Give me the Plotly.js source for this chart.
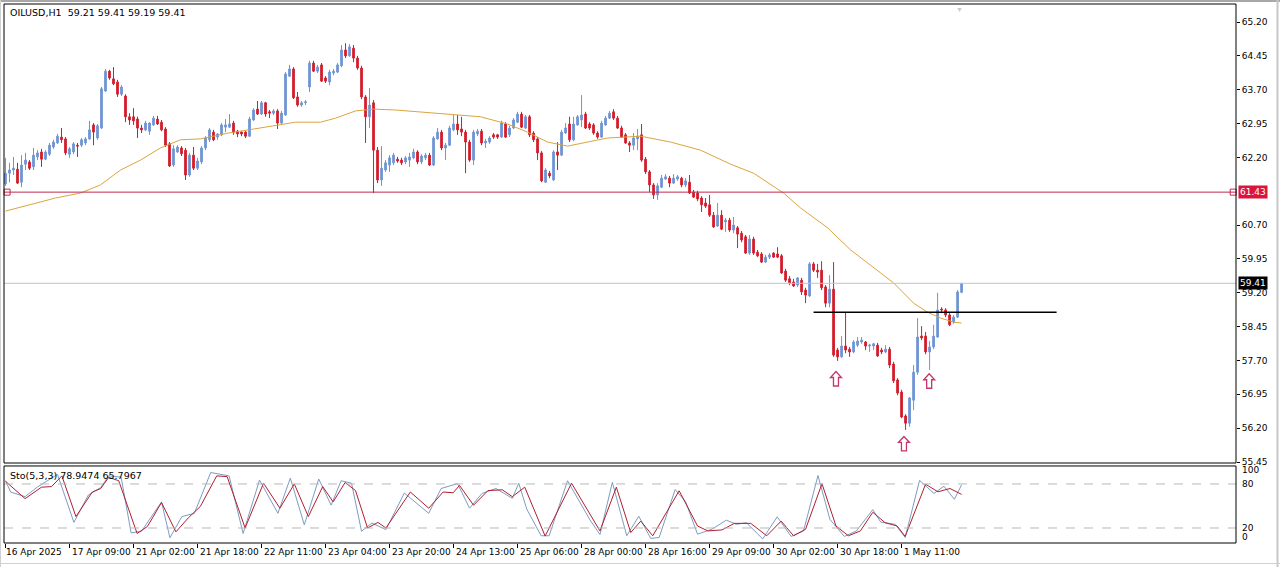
<!DOCTYPE html>
<html>
<head>
<meta charset="utf-8">
<script src="https://cdn.plot.ly/plotly-3.0.1.min.js"></script>
<style>
html,body{margin:0;padding:0;background:#fff;}
#chart{width:1280px;height:567px;}
</style>
</head>
<body>
<div id="chart"></div>
<script>
// ---------- DATA ----------
const symbolTitle = 'OILUSD,H1';
const lastOHLC = ['59.21', '59.41', '59.19', '59.41'];
const stochTitle = 'Sto(5,3,3)';
const stochLast = ['78.9474', '65.7967'];

const opens = [
61.61,61.85,61.92,61.94,61.65,62.05,62.10,61.99,62.21,62.32,62.16,62.27,62.43,62.52,62.65,62.61,62.27,62.32,62.47,62.47,
62.52,62.61,62.92,62.63,62.85,63.67,64.11,63.94,63.87,63.60,63.56,63.10,63.10,63.05,62.85,62.81,62.78,62.92,63.05,62.98,
62.83,62.50,62.03,62.32,62.41,62.36,61.81,62.25,61.96,62.10,62.41,62.59,62.76,62.65,62.70,62.87,62.87,62.96,62.78,62.76,
62.76,62.67,63.03,63.27,63.16,63.41,63.21,63.18,63.23,62.96,63.14,64.00,64.16,63.54,63.36,63.41,63.76,64.29,64.11,64.25,
63.96,63.87,64.07,64.09,64.23,64.58,64.45,64.62,64.40,64.18,63.54,63.10,63.41,62.36,61.70,61.92,62.03,62.08,62.16,62.14,
62.10,62.14,62.19,62.32,62.10,62.19,62.25,62.03,62.61,62.76,62.41,62.47,62.81,62.94,62.83,62.76,62.54,62.14,62.72,62.78,
62.52,62.54,62.70,62.70,62.65,62.94,62.70,62.85,62.98,63.16,62.85,63.10,62.74,62.61,62.30,61.65,61.85,61.70,62.32,62.25,
62.74,62.94,62.59,62.92,63.03,63.16,62.94,62.92,62.74,62.65,62.92,63.07,63.21,63.07,62.85,62.70,62.52,62.47,62.61,62.70,
62.16,61.88,61.59,61.37,61.54,61.72,61.74,61.63,61.72,61.74,61.59,61.65,61.43,61.41,61.30,61.19,61.15,60.92,60.68,60.92,
60.77,60.81,60.59,60.64,60.52,60.44,60.08,60.39,60.10,60.06,59.88,59.99,60.08,60.06,60.02,59.68,59.51,59.44,59.37,59.48,
59.26,59.13,59.84,59.70,59.70,59.33,58.97,59.28,57.93,57.78,58.02,57.95,57.89,58.04,58.11,58.11,58.02,58.02,58.04,57.93,
57.89,57.95,57.62,57.27,57.00,56.47,56.31,56.82,57.44,58.24,58.24,57.89,58.00,58.22,58.84,58.82,58.71,58.55,58.66,59.21];

const highs = [
62.19,62.08,62.21,62.08,62.25,62.30,62.14,62.41,62.36,62.39,62.36,62.52,62.59,62.72,62.85,62.65,62.43,62.54,62.52,62.63,
62.65,63.01,62.96,62.94,63.76,64.16,64.14,64.20,63.92,63.80,63.60,63.18,63.29,63.10,62.92,63.01,62.98,63.12,63.12,63.03,
62.87,62.54,62.47,62.47,62.45,62.41,62.30,62.43,62.19,62.45,62.67,62.85,62.81,62.74,62.96,63.05,63.16,63.01,62.81,62.78,
62.78,63.10,63.29,63.45,63.45,63.43,63.25,63.27,63.27,63.23,64.09,64.25,64.20,63.65,63.45,63.47,64.34,64.34,64.25,64.29,
64.00,64.14,64.16,64.29,64.69,64.73,64.71,64.69,64.45,64.23,63.58,63.74,63.47,62.43,62.45,62.14,62.25,62.30,62.21,62.19,
62.23,62.30,62.39,62.36,62.27,62.30,62.30,62.67,62.85,62.81,62.52,62.90,63.14,63.14,63.10,62.81,62.59,62.81,62.83,62.83,
62.61,62.67,62.74,62.72,63.01,62.98,62.90,63.07,63.21,63.21,63.14,63.14,62.78,62.65,62.34,61.96,61.90,62.36,62.54,62.81,
62.96,63.10,63.10,63.14,63.58,63.21,62.98,62.96,62.78,63.01,63.12,63.23,63.27,63.12,62.90,62.74,62.56,62.74,62.83,62.94,
62.21,61.92,61.63,61.63,61.81,61.83,61.79,61.83,61.81,61.77,61.74,61.81,61.48,61.46,61.34,61.30,61.37,60.99,61.19,61.03,
60.86,60.86,60.88,60.68,60.57,60.48,60.48,60.44,60.15,60.10,60.04,60.08,60.10,60.21,60.06,59.73,59.57,59.51,59.55,59.53,
59.31,59.88,59.88,59.84,59.90,59.37,59.59,59.88,57.98,58.24,58.77,58.00,58.15,58.22,58.22,58.13,58.07,58.09,58.09,57.98,
58.04,58.00,57.67,57.31,57.05,56.51,56.89,57.60,58.64,58.46,58.33,58.13,58.49,59.20,58.88,58.86,58.75,58.71,59.26,59.41];

const lows = [
61.57,61.65,61.81,61.61,61.54,61.92,61.92,61.92,62.14,61.99,62.14,62.23,62.39,62.50,62.52,62.25,62.19,62.27,62.21,62.43,
62.47,62.59,62.47,62.59,62.83,63.65,63.92,63.80,63.54,63.56,62.98,62.92,62.92,62.63,62.74,62.78,62.70,62.90,62.92,62.78,
62.43,61.99,61.99,62.30,62.23,61.70,61.77,61.92,61.92,62.05,62.36,62.54,62.56,62.59,62.67,62.76,62.85,62.70,62.65,62.67,
62.63,62.65,63.01,63.14,63.14,63.10,63.07,63.14,62.83,62.94,63.12,63.98,63.49,63.32,63.32,63.36,63.65,64.09,64.07,63.87,
63.85,63.80,64.02,64.07,64.20,64.40,64.43,64.31,64.14,63.49,62.52,62.85,61.41,61.63,61.57,61.88,61.88,62.03,62.08,62.03,
62.05,61.99,62.16,62.05,62.05,62.14,62.01,62.01,62.59,62.36,62.14,62.45,62.78,62.70,62.67,61.85,62.10,62.03,62.67,62.47,
62.41,62.50,62.61,62.61,62.63,62.63,62.65,62.83,62.96,62.85,62.83,62.65,62.54,62.14,61.65,61.63,61.74,61.68,61.92,62.23,
62.72,62.54,62.56,62.90,62.87,62.83,62.81,62.70,62.61,62.63,62.90,63.05,63.03,62.83,62.63,62.50,62.32,62.36,62.36,62.10,
61.83,61.43,61.28,61.26,61.52,61.70,61.54,61.61,61.68,61.54,61.54,61.39,61.30,61.23,60.99,61.08,60.88,60.64,60.66,60.59,
60.55,60.55,60.52,60.19,60.32,60.06,60.04,60.04,59.99,59.86,59.86,59.95,59.97,59.97,59.62,59.44,59.37,59.33,59.33,59.15,
58.97,59.11,59.66,59.53,59.26,58.88,58.88,57.78,57.69,57.76,57.86,57.78,57.86,58.00,58.07,57.93,57.89,57.93,57.78,57.84,
57.86,57.53,57.20,56.93,56.42,56.16,56.23,56.60,57.38,58.15,57.84,57.49,57.95,58.20,58.75,58.66,58.46,58.51,58.64,59.19];

const closes = [
61.85,61.92,61.96,61.63,62.03,62.14,61.96,62.25,62.30,62.16,62.32,62.47,62.54,62.67,62.59,62.30,62.39,62.50,62.45,62.59,
62.61,62.81,62.76,62.90,63.72,64.11,63.96,63.83,63.60,63.76,63.10,63.03,63.01,62.85,62.81,62.96,62.96,63.07,62.94,62.81,
62.47,62.01,62.39,62.43,62.28,61.81,62.25,61.96,62.12,62.41,62.63,62.81,62.59,62.72,62.92,62.92,62.94,62.76,62.72,62.72,
62.67,63.05,63.25,63.16,63.41,63.16,63.18,63.23,62.96,63.18,64.05,64.16,63.52,63.36,63.41,63.43,64.29,64.11,64.20,63.89,
63.89,64.09,64.11,64.25,64.58,64.45,64.65,64.40,64.18,63.54,63.10,63.36,62.36,61.70,61.96,62.08,62.19,62.25,62.12,62.08,
62.19,62.21,62.32,62.10,62.23,62.25,62.03,62.63,62.76,62.41,62.47,62.85,62.94,62.81,62.76,62.54,62.14,62.76,62.78,62.52,
62.56,62.63,62.65,62.65,62.96,62.65,62.85,63.03,63.16,62.87,63.10,62.70,62.59,62.30,61.68,61.92,61.79,62.32,62.25,62.76,
62.85,62.59,62.94,63.10,63.14,62.85,62.85,62.74,62.65,62.96,63.07,63.18,63.07,62.85,62.65,62.52,62.47,62.63,62.67,62.14,
61.88,61.59,61.37,61.57,61.74,61.77,61.63,61.74,61.77,61.59,61.68,61.41,61.32,61.28,61.15,61.12,60.92,60.66,60.92,60.61,
60.81,60.59,60.70,60.50,60.37,60.08,60.39,60.08,60.02,59.88,59.99,60.04,59.99,59.99,59.64,59.48,59.42,59.35,59.53,59.22,
59.15,59.84,59.70,59.66,59.31,58.97,59.28,57.82,57.78,58.02,57.93,57.89,58.11,58.13,58.15,58.02,58.04,58.07,57.80,57.89,
57.95,57.60,57.25,56.98,56.45,56.31,56.87,57.44,58.22,58.20,57.89,58.00,58.24,58.82,58.82,58.71,58.49,58.66,59.22,59.41];

// moving average, bar position / value
const maBar = [0,12.5,18.75,23.75,28.75,33.75,38.75,43.75,48.75,55.75,60.75,67.5,72.5,78.75,82.5,87.5,92,97.5,103.75,113.75,
118.75,125.5,130.5,135.5,140.5,145.5,150.5,158.75,166.25,173.75,181.25,187,194.5,198.75,205.5,211.25,217,222,227,230.5,233.75,237,239];
const maVal = [61.01,61.30,61.41,61.59,61.92,62.14,62.41,62.59,62.61,62.74,62.81,62.90,62.98,62.98,63.07,63.23,63.27,63.25,63.21,63.14,
63.10,62.94,62.76,62.54,62.45,62.54,62.63,62.67,62.54,62.36,62.05,61.85,61.41,61.08,60.64,60.15,59.77,59.42,58.97,58.77,58.64,58.55,58.53];

// stochastic main (%K) and signal (%D)
const kBar = [0,1.3,4.9,8,13,17.1,20.7,23.8,25.8,28.9,31.4,34,39,41.1,44.1,47.2,51.3,55.9,59.4,63.5,68.1,71.2,74.7,78.3,81.4,83.9,86.5,89,91.6,95.1,
99.7,105.8,108.9,113,116,119.1,122.6,126.7,128.3,130.3,133.9,135.9,140.5,146.1,148.6,151.7,155.3,158.3,161.3,163.4,167.4,170,173,176.6,180.2,182.7,185.2,189.3,192.9,196.4,
199.5,203.1,206.1,209.7,212.7,216.8,218.8,222.4,224.9,228.5,232.1,234.6,237.2,239];
const kVal = [84.4,68.9,62.7,76,93,27.6,64.9,75.1,91,89.3,13.3,15.6,55.6,6.7,35.6,40,95.6,91,12.5,85.3,40,88,24.4,86.7,51.1,84.4,81,15.6,26.7,17.8,
67.6,40,73.8,80.4,47,67,73.8,60.4,81,45.8,9.4,9.4,84.4,31.1,11.1,82.2,9.4,36,5.8,7.1,72.4,56,11.6,18.3,30.7,25,27.2,5,35.2,8.5,
16,91.5,31.6,8.5,16,45,28,25,7.1,84.9,67.1,76.9,59.1,78.9];
const dBar = [0,4.9,9,11.5,14.1,17.6,21.7,23.8,25.8,28.3,32.9,35.5,39,42.6,45.7,48.7,52.8,55.4,59.9,64.5,68.6,72.2,75.7,79.3,81.9,84.9,87.5,90.5,93.1,95.1,
101.2,105.8,109.4,111.9,113.5,117,120.6,124.2,126.7,129.8,134.9,141.5,148.6,152.7,156.3,158.8,161.8,168.4,173,175.6,179.1,182.2,186.3,190.3,193.9,197,200,204.1,207.6,210.7,
213.7,216.8,219.9,222.9,224.9,230,233.1,236.1,239];
const dVal = [83.6,60,75.6,76.4,91,35.6,69,73.8,89,84.4,12.5,22.2,54.7,14.7,33.8,49.3,91,90,20,81,47,80,35.6,76.4,55.6,82,71,20,27.6,20,
69,47,69,68,78,51,71,72,62.7,75.6,9,81,16,75.6,13.8,29.4,9.4,70.7,22.7,16,17.4,26.3,26.3,9.4,29.4,9.4,18.3,80.4,22.7,9.4,
16,41.4,27.2,22.7,8.5,79.6,69.3,73.8,65.8];

// time axis labels (every 16 bars)
const timeLabels = ['16 Apr 2025','17 Apr 09:00','21 Apr 02:00','21 Apr 18:00','22 Apr 11:00','23 Apr 04:00','23 Apr 20:00',
'24 Apr 13:00','25 Apr 06:00','28 Apr 00:00','28 Apr 16:00','29 Apr 09:00','30 Apr 02:00','30 Apr 18:00','1 May 11:00'];
const priceTickShown = [55.45,56.20,56.95,57.70,58.45,59.20,59.95,60.70,62.20,62.95,63.70,64.45,65.20];
const stochLevels = [80, 20];
const stochScaleLabels = ['100','80','20','0'];
const stochScaleValues = [100, 80, 20, 0];

const levelPrice = 61.43;        // red horizontal line
const bidPrice = 59.41;          // last price line
const necklinePrice = 58.77;     // black trend line
const necklineBars = [202, 262.75];
const levelAnchorBars = [0.4, 306.9];
const arrowBars = [207.6, 224.6, 230.9];
const arrowPrices = [57.29, 55.85, 57.24];

// ---------- CHART ----------
const FONT = 'DejaVu Sans, Tahoma, sans-serif';
const xs = opens.map((_, i) => i);
const xRange = [-0.375, 307.6];
const mainDomain = [0.1484, 1];
const stochDomain = [0, 0.1429];

const traces = [
  {
    type: 'candlestick', x: xs, open: opens, high: highs, low: lows, close: closes,
    xaxis: 'x', yaxis: 'y',
    increasing: {line: {color: '#6f95d3', width: 1}, fillcolor: '#6f95d3'},
    decreasing: {line: {color: '#d21d2b', width: 1}, fillcolor: '#d21d2b'},
    whiskerwidth: 0, hoverinfo: 'skip', showlegend: false
  },
  {
    type: 'scatter', mode: 'lines', x: maBar, y: maVal, xaxis: 'x', yaxis: 'y',
    line: {color: '#dca43e', width: 1}, hoverinfo: 'skip'
  },
  {
    type: 'scatter', mode: 'markers', x: levelAnchorBars, y: levelAnchorBars.map(() => levelPrice),
    xaxis: 'x', yaxis: 'y', marker: {symbol: 'square-open', size: 6, color: '#c0284c', line: {width: 1}},
    hoverinfo: 'skip', cliponaxis: false
  },
  {
    type: 'scatter', mode: 'lines', x: kBar, y: kVal, xaxis: 'x2', yaxis: 'y2',
    line: {color: '#7d9cc2', width: 1}, hoverinfo: 'skip'
  },
  {
    type: 'scatter', mode: 'lines', x: dBar, y: dVal, xaxis: 'x2', yaxis: 'y2',
    line: {color: '#b01f2f', width: 1}, hoverinfo: 'skip'
  }
];

const px2paperX = (px) => (px - 4) / 1232;
const px2paperY = (py) => (543 - py) / 539;

// hollow block arrow outline (pixel offsets around its anchor point)
const arrowPath = 'M0,7.5 L-5.5,1.5 L-2.5,1.5 L-2.5,-7 L2.5,-7 L2.5,1.5 L5.5,1.5 Z';

const shapes = [
  // level lines
  {type: 'line', xref: 'paper', x0: 0, x1: 1, yref: 'y', y0: bidPrice, y1: bidPrice, line: {color: '#c4c4c4', width: 1}},
  {type: 'line', xref: 'paper', x0: 0, x1: 1, yref: 'y', y0: levelPrice, y1: levelPrice, line: {color: '#c0284c', width: 1}},
  {type: 'line', xref: 'x', x0: necklineBars[0], x1: necklineBars[1], yref: 'y', y0: necklinePrice, y1: necklinePrice, line: {color: '#000', width: 1.5}},
  // stochastic levels
  ...stochLevels.map(v => ({type: 'line', xref: 'paper', x0: 0, x1: 1, yref: 'y2', y0: v, y1: v, line: {color: '#b8b8b8', width: 1, dash: 'dash'}})),
  // frames
  {type: 'rect', xref: 'paper', yref: 'paper', x0: 0, x1: 1, y0: mainDomain[0], y1: mainDomain[1], line: {color: '#000', width: 1}},
  {type: 'rect', xref: 'paper', yref: 'paper', x0: 0, x1: 1, y0: stochDomain[0], y1: stochDomain[1], line: {color: '#000', width: 1}},
  // window decoration
  {type: 'rect', xref: 'paper', yref: 'paper', x0: px2paperX(0), x1: px2paperX(1280), y0: px2paperY(2), y1: px2paperY(0), fillcolor: '#a8a8a8', line: {width: 0}},
  {type: 'line', xref: 'paper', yref: 'paper', x0: px2paperX(1277.5), x1: px2paperX(1277.5), y0: px2paperY(567), y1: px2paperY(0), line: {color: '#c8c8c8', width: 2}},
  {type: 'line', xref: 'paper', yref: 'paper', x0: px2paperX(0), x1: px2paperX(1280), y0: px2paperY(563.5), y1: px2paperY(563.5), line: {color: '#d0d0d0', width: 1}},
  {type: 'line', xref: 'paper', yref: 'paper', x0: px2paperX(0.5), x1: px2paperX(0.5), y0: px2paperY(567), y1: px2paperY(0), line: {color: '#d0d0d0', width: 1}},
  // signal arrows
  ...arrowBars.map((b, k) => ({type: 'path', xref: 'x', yref: 'y', xsizemode: 'pixel', ysizemode: 'pixel',
    xanchor: b, yanchor: arrowPrices[k], path: arrowPath, fillcolor: '#ffffff', line: {color: '#c8346c', width: 1.3}}))
];

const annotations = [
  {xref: 'paper', yref: 'paper', x: px2paperX(8), y: px2paperY(13), xanchor: 'left', yanchor: 'middle', showarrow: false,
   text: symbolTitle + '\u00a0\u00a0' + lastOHLC.join(' '), font: {family: FONT, size: 9.5, color: '#000'}},
  {xref: 'paper', yref: 'paper', x: px2paperX(8), y: px2paperY(475), xanchor: 'left', yanchor: 'middle', showarrow: false,
   text: stochTitle + ' ' + stochLast.join(' '), font: {family: FONT, size: 9.5, color: '#000'}},
  // price boxes on right scale
  {xref: 'paper', yref: 'y', x: px2paperX(1238), y: levelPrice, xanchor: 'left', yanchor: 'middle', showarrow: false,
   text: levelPrice.toFixed(2), bgcolor: '#dc143c', borderpad: 1, font: {family: FONT, size: 9, color: '#fff'}},
  {xref: 'paper', yref: 'y', x: px2paperX(1238), y: bidPrice, xanchor: 'left', yanchor: 'middle', showarrow: false,
   text: bidPrice.toFixed(2), bgcolor: '#000', borderpad: 1, font: {family: FONT, size: 9, color: '#fff'}},
  // stochastic scale labels
  ...stochScaleLabels.map((t, k) => ({xref: 'paper', yref: 'y2', x: px2paperX(1240), y: stochScaleValues[k],
   yshift: k === 0 ? -1 : (k === 3 ? 6 : 0), xanchor: 'left', yanchor: 'middle', showarrow: false, text: t,
   font: {family: FONT, size: 9, color: '#000'}})),
  // time labels
  ...timeLabels.map((t, k) => ({xref: 'x2', yref: 'paper', x: k * 16 - 0.125, y: px2paperY(552), xanchor: 'left', yanchor: 'middle',
   xshift: k === 0 ? -1 : 1, showarrow: false, text: t, font: {family: FONT, size: 9, color: '#000'}})),
  // window top marker
  {xref: 'paper', yref: 'paper', x: px2paperX(965), y: px2paperY(3), showarrow: false, text: '\u25bc', font: {size: 7, color: '#c8c8c8'}}
];

const layout = {
  width: 1280, height: 567,
  margin: {l: 4, r: 44, t: 4, b: 24, pad: 0},
  paper_bgcolor: '#fff', plot_bgcolor: '#fff',
  showlegend: false,
  boxgap: 0.4,
  xaxis: {domain: [0, 1], range: xRange, anchor: 'y', showticklabels: false, ticks: '', showgrid: false, zeroline: false,
          showline: false, rangeslider: {visible: false}, fixedrange: true},
  xaxis2: {domain: [0, 1], range: xRange, anchor: 'y2', tickmode: 'array', tickvals: timeLabels.map((_, k) => k * 16 - 0.125),
           ticks: 'outside', ticklen: 4, tickcolor: '#000', showticklabels: false, showgrid: false, zeroline: false, showline: false, fixedrange: true},
  yaxis: {domain: mainDomain, range: [55.428, 65.599], side: 'right', tickmode: 'array', tickvals: priceTickShown,
          ticktext: priceTickShown.map(v => v.toFixed(2)), ticks: 'outside', ticklen: 3, tickcolor: '#000',
          tickfont: {family: FONT, size: 9, color: '#000'}, showgrid: false, zeroline: false, showline: false, fixedrange: true},
  yaxis2: {domain: stochDomain, range: [-0.45, 104.5], side: 'right', showticklabels: false, ticks: '', showgrid: false,
           zeroline: false, showline: false, fixedrange: true},
  shapes: shapes,
  annotations: annotations
};

Plotly.newPlot('chart', traces, layout, {displayModeBar: false, staticPlot: true});
</script>
</body>
</html>
